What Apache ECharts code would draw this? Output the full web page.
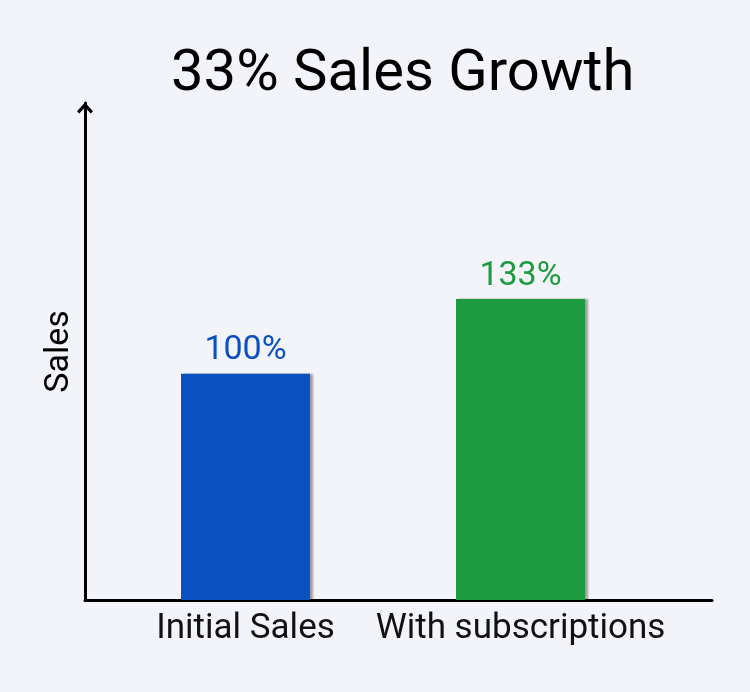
<!DOCTYPE html>
<html>
<head>
<meta charset="utf-8">
<script src="https://cdn.jsdelivr.net/npm/echarts@6/dist/echarts.min.js"></script>
<style>
html,body{margin:0;padding:0;background:#f3f4f9;}
#c{width:750px;height:692px;}
</style>
</head>
<body>
<div id="c"></div>
<script>
const categories = ['Initial Sales', 'With subscriptions'];
const values = [100, 133];
const labels = ['100%', '133%'];
const colors = ['#0b50c0', '#1d9b3f'];
const titleText = '33% Sales Growth';
const yName = 'Sales';

const chart = echarts.init(document.getElementById('c'));
const font = 'Roboto, "Open Sans", sans-serif';
chart.setOption({
  backgroundColor: '#f3f4f9',
  animation: false,
  title: {
    text: titleText, left: 166, top: 41,
    textStyle: {fontFamily: font, fontSize: 58, fontWeight: 'normal', color: '#000'}
  },
  grid: [
    {left: 85, right: 38, top: 103, bottom: 92},
    {left: 108, right: 92, top: 100, bottom: 92}
  ],
  xAxis: [
    {gridIndex: 0, type: 'value', min: 0, max: 1,
     axisLine: {show: true, lineStyle: {color: '#000', width: 3}},
     axisTick: {show: false}, axisLabel: {show: false}, splitLine: {show: false}},
    {gridIndex: 1, type: 'category', data: categories,
     axisLine: {show: false}, axisTick: {show: false},
     axisLabel: {fontFamily: font, fontSize: 35, color: '#111', margin: 12, interval: 0},
     splitLine: {show: false}}
  ],
  yAxis: [
    {gridIndex: 0, type: 'value', min: 0, max: 1,
     axisLine: {show: true, symbol: ['none', 'path://M0,7.5 L7,0 L14,7.5 L12,9.5 L7,4 L2,9.5 Z'],
                symbolSize: [16, 11], symbolOffset: [0, -5],
                lineStyle: {color: '#000', width: 3}},
     axisTick: {show: false}, axisLabel: {show: false}, splitLine: {show: false},
     name: yName, nameLocation: 'middle', nameGap: 9, nameRotate: 90,
     nameTextStyle: {fontFamily: font, fontSize: 34, color: '#000'}},
    {gridIndex: 1, type: 'value', min: 0, max: 221,
     axisLine: {show: false}, axisTick: {show: false}, axisLabel: {show: false}, splitLine: {show: false}}
  ],
  series: [{
    type: 'bar', xAxisIndex: 1, yAxisIndex: 1, barWidth: 129,
    data: values.map((v, i) => ({
      value: v,
      itemStyle: {color: colors[i], shadowColor: 'rgba(0,0,0,0.35)', shadowOffsetX: 3, shadowOffsetY: 0, shadowBlur: 2},
      label: {color: colors[i], formatter: labels[i]}
    })),
    label: {show: true, position: 'top', distance: 6, fontFamily: font, fontSize: 34}
  }]
});
</script>
</body>
</html>
